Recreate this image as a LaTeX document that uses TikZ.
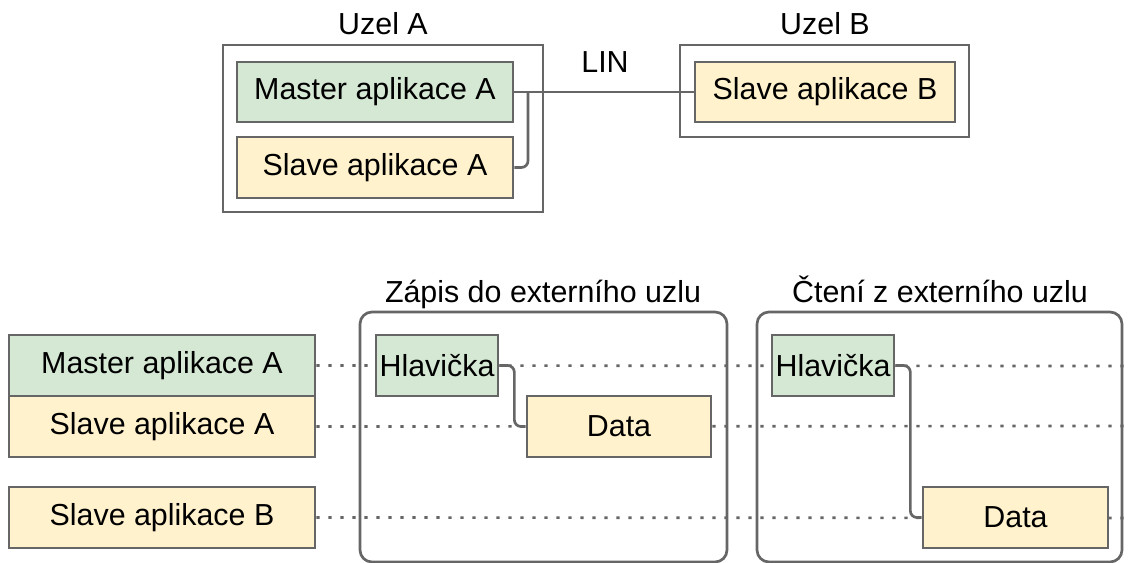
\documentclass[tikz,border=0pt]{standalone}
\usepackage{fontspec}
\setmainfont{Liberation Sans}
\usetikzlibrary{fit}
\definecolor{appgreen}{HTML}{D5E8D4}
\definecolor{appyellow}{HTML}{FFF2CC}
\definecolor{edge}{HTML}{666666}
\tikzset{
  txt/.style={font=\fontsize{22.8}{26}\selectfont, text=black},
  appbox/.style={txt, draw=edge, line width=2pt, inner sep=0pt},
  master/.style={appbox, fill=appgreen},
  slave/.style={appbox, fill=appyellow},
  nodebox/.style={draw=edge, line width=2pt, inner sep=0pt},
  phase/.style={draw=edge, line width=2pt, inner sep=0pt, rounded corners=9pt},
  wire/.style={draw=edge, line width=2pt},
  timeline/.style={draw=edge, line width=2pt, line cap=butt, dash pattern=on 2.4pt off 6.6pt},
  caption/.style={txt, anchor=base, inner sep=0pt}
}
\begin{document}
\begin{tikzpicture}[x=0.75pt,y=-0.75pt]
\useasboundingbox (0,0) rectangle (1128,563);

% ---------- topology: node A with two applications, node B with one ----------
\node[nodebox, fit={(223,45)(543,212)}] (uzelA) {};
\node[nodebox, fit={(680,45)(969,137)}] (uzelB) {};
\node[caption] (lblA) at (383,35) {Uzel A};
\node[caption] (lblB) at (825,35) {Uzel B};

\node[master, fit={(237,62)(513,122)}] (mA) {};
\node[txt] at (mA.center) {Master aplikace A};
\node[slave, fit={(237,137)(513,198)}] (sA) {};
\node[txt] at (sA.center) {Slave aplikace A};
\node[slave, fit={(695,62)(955,122)}] (sB) {};
\node[txt] at (sB.center) {Slave aplikace B};

\node[caption] (lin) at (605,73) {LIN};
\draw[wire] (mA.east) -- (sB.west);
\coordinate (jA) at (528,92);
\draw[wire, rounded corners=5pt] (jA) |- (sA.east);

% ---------- timing: rows for each application ----------
\node[master, fit={(9,335)(315,396)}] (rowM) {};
\node[txt] at (rowM.center) {Master aplikace A};
\node[slave, fit={(9,396)(315,457)}] (rowSA) {};
\node[txt] at (rowSA.center) {Slave aplikace A};
\node[slave, fit={(9,487)(315,548)}] (rowSB) {};
\node[txt] at (rowSB.center) {Slave aplikace B};

% phase frames
\node[phase, fit={(360,312)(727,562)}] (write) {};
\node[phase, fit={(757,312)(1122,562)}] (read) {};
\node[caption] (lblW) at (543,302) {Zápis do externího uzlu};
\node[caption] (lblR) at (940,302) {Čtení z externího uzlu};

% time lines
\coordinate (e1) at (1128,366);
\coordinate (e2) at (1128,426);
\coordinate (e3) at (1128,518);
\draw[timeline] (rowM.east) -- (e1);
\draw[timeline] (rowSA.east) -- (e2);
\draw[timeline] (rowSB.east) -- (e3);

% frames: header then data
\node[master, fit={(376,335)(498,396)}] (h1) {};
\node[txt] at (h1.center) {Hlavička};
\node[slave, fit={(527,396)(711,457)}] (d1) {};
\node[txt] at (d1.center) {Data};
\draw[wire, rounded corners=5pt] (h1.east) -- ++(15,0) |- (d1.west);

\node[master, fit={(772,335)(894,396)}] (h2) {};
\node[txt] at (h2.center) {Hlavička};
\node[slave, fit={(923,487)(1108,548)}] (d2) {};
\node[txt] at (d2.center) {Data};
\draw[wire, rounded corners=5pt] (h2.east) -- ++(15,0) |- (d2.west);
\end{tikzpicture}
\end{document}
